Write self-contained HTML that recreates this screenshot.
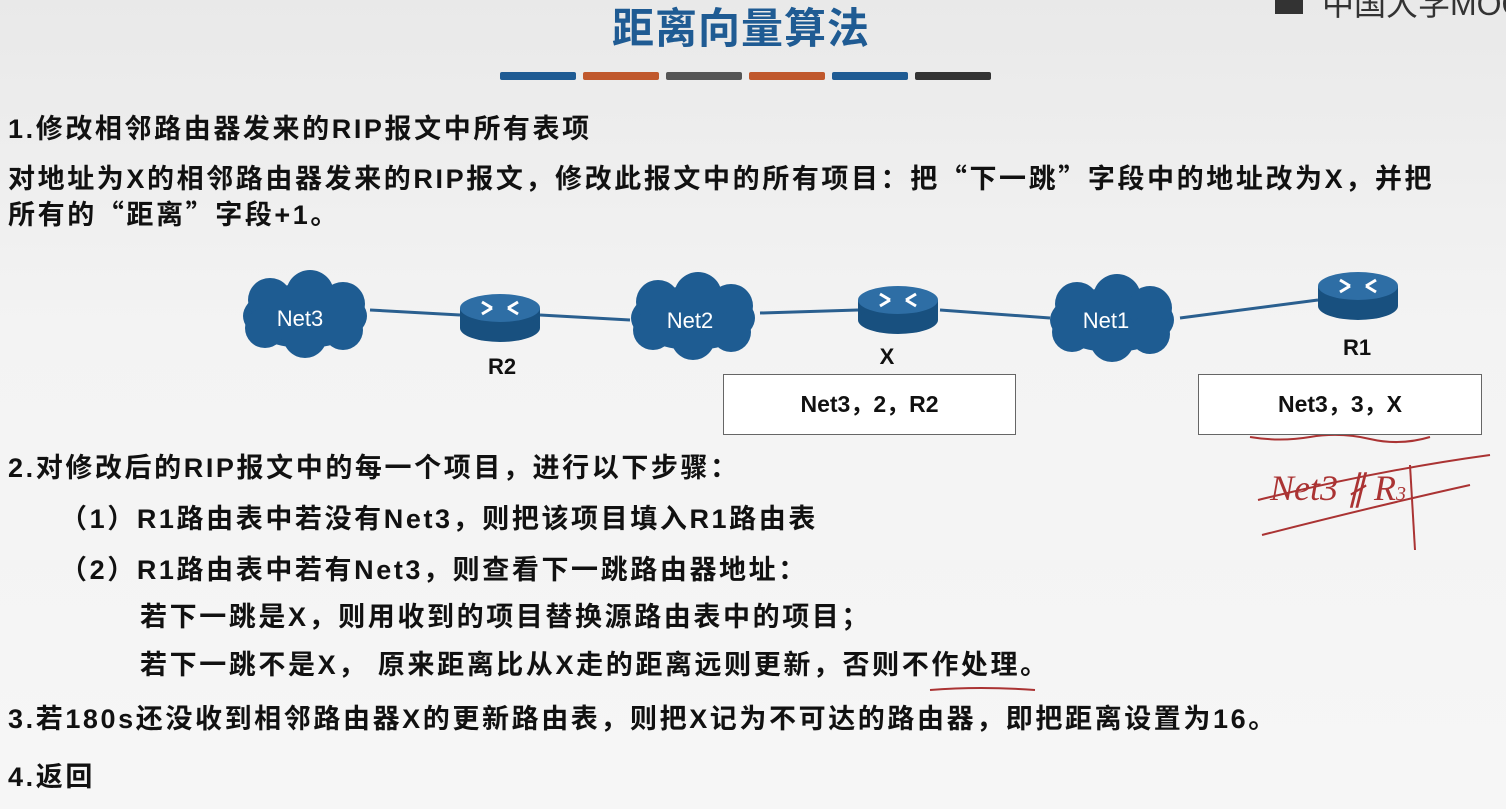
<!DOCTYPE html>
<html><head><meta charset="utf-8"><style>
body{margin:0;}
#p{position:relative;width:1506px;height:809px;overflow:hidden;background:linear-gradient(#e9e9e9,#f3f3f3 40%,#f6f6f6);font-family:"Liberation Sans","Noto Sans CJK SC",sans-serif;color:#111;}
.t{position:absolute;font-size:27px;letter-spacing:2.6px;font-weight:bold;white-space:nowrap;line-height:1;}
.q{font-family:"Noto Sans CJK SC",sans-serif;}
.bar{position:absolute;top:72px;height:8px;width:76px;border-radius:2px;}
.box{position:absolute;border:1.5px solid #666;background:#fff;font-size:23px;font-weight:bold;text-align:center;}
</style></head><body><div id="p">
<div class="t" style="left:612px;top:8px;font-size:42px;letter-spacing:1px;color:#1f5b93;">距离向量算法</div>
<div style="position:absolute;left:1275px;top:-16px;width:28px;height:30px;background:#333;"></div>
<div class="t" style="left:1322px;top:-12px;font-size:32px;letter-spacing:0;font-weight:normal;color:#333;">中国大学MOOC</div>
<div class="bar" style="left:500px;background:#1f5b93"></div>
<div class="bar" style="left:583px;background:#c0582c"></div>
<div class="bar" style="left:666px;background:#555"></div>
<div class="bar" style="left:749px;background:#c0582c"></div>
<div class="bar" style="left:832px;background:#1f5b93"></div>
<div class="bar" style="left:915px;background:#333"></div>

<div class="t" style="left:8px;top:116px;">1.修改相邻路由器发来的RIP报文中所有表项</div>
<div class="t" style="left:8px;top:163px;">对地址为X的相邻路由器发来的RIP报文，修改此报文中的所有项目：把<span class="q">“</span>下一跳<span class="q">”</span>字段中的地址改为X，并把</div>
<div class="t" style="left:8px;top:199px;">所有的<span class="q">“</span>距离<span class="q">”</span>字段+1。</div>

<svg style="position:absolute;left:0;top:0" width="1506" height="809">
<defs>
<g id="c" fill="#1e5c92"><ellipse cx="0" cy="0" rx="62" ry="32"/><circle cx="-35" cy="-16" r="22"/><circle cx="5" cy="-22" r="24"/><circle cx="38" cy="-12" r="22"/><circle cx="-40" cy="12" r="20"/><circle cx="0" cy="20" r="22"/><circle cx="38" cy="14" r="20"/></g>
<g id="r">
<rect x="-40" y="-8" width="80" height="20" fill="#18507f"/>
<ellipse cx="0" cy="12" rx="40" ry="14" fill="#18507f"/>
<ellipse cx="0" cy="-8" rx="40" ry="14" fill="#2e6ea5"/>
<path d="M-18-14l10 6M18-14l-10 6M-18-2l10-6M18-2l-10-6" stroke="#fff" stroke-width="3"/>
</g>
</defs>
<g stroke="#2a5f8f" stroke-width="3" fill="none">
<line x1="370" y1="310" x2="460" y2="315"/><line x1="540" y1="315" x2="630" y2="320"/>
<line x1="760" y1="313" x2="858" y2="310"/><line x1="940" y1="310" x2="1050" y2="318"/>
<line x1="1180" y1="318" x2="1318" y2="300"/>
</g>
<use href="#c" transform="translate(305,316)"/>
<use href="#c" transform="translate(693,318)"/>
<use href="#c" transform="translate(1112,320)"/>
<use href="#r" transform="translate(500,316)"/>
<use href="#r" transform="translate(898,308)"/>
<use href="#r" transform="translate(1358,294)"/>
<text x="300" y="326" font-size="22" fill="#fff" text-anchor="middle" font-family="Liberation Sans">Net3</text>
<text x="690" y="328" font-size="22" fill="#fff" text-anchor="middle" font-family="Liberation Sans">Net2</text>
<text x="1106" y="328" font-size="22" fill="#fff" text-anchor="middle" font-family="Liberation Sans">Net1</text>
<g font-size="22" font-weight="bold" text-anchor="middle" font-family="Liberation Sans" fill="#111">
<text x="502" y="374">R2</text><text x="887" y="364">X</text><text x="1357" y="355">R1</text></g>
<g stroke="#a33" stroke-width="2" fill="none">
<path d="M1250 425q20 8 40 0t40 0t40 0t40 0 40 0"/>
<path d="M1250 437q30 5 60 0t60 2 60 -2"/>
<path d="M1258 500 Q1380 470 1490 455"/>
<path d="M1262 535 Q1380 505 1470 485"/>
<path d="M1410 465 L1415 550"/>
<path d="M930 690 Q980 686 1035 690"/>
</g>
<text x="1270" y="500" font-size="36" fill="#a33" font-family="Liberation Serif" font-style="italic">Net3 ∦ R<tspan font-size="20">3</tspan></text>
</svg>
<div class="box" style="left:723px;top:374px;width:291px;height:59px;line-height:59px;">Net3，2，R2</div>
<div class="box" style="left:1198px;top:374px;width:282px;height:59px;line-height:59px;">Net3，3，X</div>

<div class="t" style="left:8px;top:455px;">2.对修改后的RIP报文中的每一个项目，进行以下步骤：</div>
<div class="t" style="left:60px;top:506px;">（1）R1路由表中若没有Net3，则把该项目填入R1路由表</div>
<div class="t" style="left:60px;top:557px;">（2）R1路由表中若有Net3，则查看下一跳路由器地址：</div>
<div class="t" style="left:140px;top:604px;">若下一跳是X，则用收到的项目替换源路由表中的项目；</div>
<div class="t" style="left:140px;top:652px;">若下一跳不是X， 原来距离比从X走的距离远则更新，否则不作处理。</div>
<div class="t" style="left:8px;top:706px;">3.若180s还没收到相邻路由器X的更新路由表，则把X记为不可达的路由器，即把距离设置为16。</div>
<div class="t" style="left:8px;top:764px;">4.返回</div>
</div></body></html>
